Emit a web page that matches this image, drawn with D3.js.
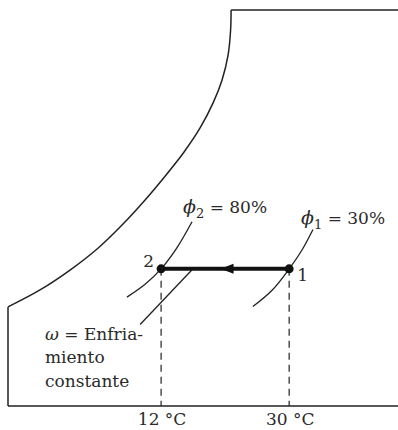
<!DOCTYPE html>
<html>
<head>
<meta charset="utf-8">
<script src="https://cdn.jsdelivr.net/npm/d3@7"></script>
<style>
  body { margin: 0; background: #fff; }
  svg { display: block; }
  text { font-family: "DejaVu Serif", "Liberation Serif", serif; font-size: 17px; fill: #2a2a2a; }
</style>
</head>
<body>
<div id="chart"></div>
<script>
// saturation curve (dry-bulb temperature in °C, humidity ratio in g/kg)
var saturationCurve = [
    [-9.52, 5.78], [-5.02, 6.77], [-0.8, 7.93], [3.0, 9.16], [6.51, 10.56],
    [9.75, 12.02], [12.7, 13.48], [15.23, 14.82], [17.48, 16.22], [19.31, 17.68],
    [20.57, 19.02], [21.42, 20.48], [21.77, 21.93], [21.84, 23.1]
];
// relative humidity lines through the two states
var phi2Curve = [[7.2, 6.35], [9.75, 7.1], [12, 8], [14.1, 9.15], [16.35, 10.75]];
var phi1Curve = [[24.9, 5.8], [27.6, 6.75], [30, 8], [31.8, 9.1], [33.35, 10.3]];
// leader for the constant humidity ratio label
var omegaLeader = [[16.35, 7.95], [9.05, 4.75]];

var states = [
    { name: "1", t: 30, w: 8 },
    { name: "2", t: 12, w: 8 }
];
var tempTicks = [12, 30];
var tMin = -9.52, tMax = 45.3, wMax = 23.1;

var width = 398, height = 430;

var svg = d3.select("#chart").append("svg")
    .attr("width", width)
    .attr("height", height);

var x = d3.scaleLinear().domain([tMin, tMax]).range([8, 398]);
var y = d3.scaleLinear().domain([0, wMax]).range([406, 10]);

var straight = d3.line().x(d => x(d[0])).y(d => y(d[1]));
var smooth = d3.line().x(d => x(d[0])).y(d => y(d[1])).curve(d3.curveCatmullRom.alpha(0.5));

function stroke(sel, w) {
    return sel.attr("fill", "none").attr("stroke", "#222").attr("stroke-width", w);
}

// chart outline: left edge, saturation curve, top edge, temperature axis
stroke(svg.append("path").attr("d", straight([[tMin, 0], saturationCurve[0]])), 1.5);
stroke(svg.append("path").attr("d", smooth(saturationCurve)), 1.5);
stroke(svg.append("path").attr("d", straight([saturationCurve[saturationCurve.length - 1], [tMax, wMax]])), 1.5);
stroke(svg.append("path").attr("d", straight([[tMin, 0], [tMax, 0]])), 1.5);

// dashed drop lines to the axis
svg.selectAll(".drop")
    .data(states)
    .enter()
    .append("line")
    .attr("class", "drop")
    .attr("x1", d => x(d.t)).attr("x2", d => x(d.t))
    .attr("y1", d => y(d.w)).attr("y2", y(0))
    .attr("stroke", "#222")
    .attr("stroke-width", 1.2)
    .attr("stroke-dasharray", "7,5");

// relative humidity curves and leader
stroke(svg.append("path").attr("d", smooth(phi2Curve)), 1.3);
stroke(svg.append("path").attr("d", smooth(phi1Curve)), 1.3);
stroke(svg.append("path").attr("d", straight(omegaLeader)), 1.3);

// cooling process 1 -> 2
svg.append("line")
    .attr("x1", x(states[0].t)).attr("x2", x(states[1].t))
    .attr("y1", y(states[0].w)).attr("y2", y(states[1].w))
    .attr("stroke", "#111")
    .attr("stroke-width", 4);

var ax = x((states[0].t + states[1].t) / 2 + 0.2), ay = y(states[0].w);
svg.append("path")
    .attr("d", `M${ax - 6},${ay} L${ax + 7},${ay - 5} L${ax + 7},${ay + 5} Z`)
    .attr("fill", "#111");

svg.selectAll(".state")
    .data(states)
    .enter()
    .append("circle")
    .attr("class", "state")
    .attr("cx", d => x(d.t))
    .attr("cy", d => y(d.w))
    .attr("r", 4.5)
    .attr("fill", "#111");

// state labels
svg.append("text").attr("x", x(30) + 8).attr("y", y(8) + 12).text("1");
svg.append("text").attr("x", x(12) - 7).attr("y", y(8) - 2)
    .attr("text-anchor", "end").text("2");

// axis labels
svg.selectAll(".tlab")
    .data(tempTicks)
    .enter()
    .append("text")
    .attr("class", "tlab")
    .attr("x", d => x(d) + 1)
    .attr("y", 425)
    .attr("text-anchor", "middle")
    .text(d => d + " °C");

// phi labels
function phiLabel(px, py, sub, val) {
    var t = svg.append("text").attr("x", px).attr("y", py);
    t.append("tspan").style("font-style", "italic").style("font-size", "19px").text("ϕ");
    t.append("tspan").attr("dy", 5).style("font-size", "13px").text(sub);
    t.append("tspan").attr("dy", -5).text(" = " + val);
}
phiLabel(183, 213, "2", "80%");
phiLabel(301, 224, "1", "30%");

// omega label
var omegaLines = ["= Enfria-", "miento", "constante"];
var om = svg.append("text").attr("x", 45).attr("y", 340);
om.append("tspan").style("font-style", "italic").text("ω ");
om.append("tspan").text(omegaLines[0]);
svg.append("text").attr("x", 45).attr("y", 363).text(omegaLines[1]);
svg.append("text").attr("x", 45).attr("y", 387).text(omegaLines[2]);
</script>
</body>
</html>
